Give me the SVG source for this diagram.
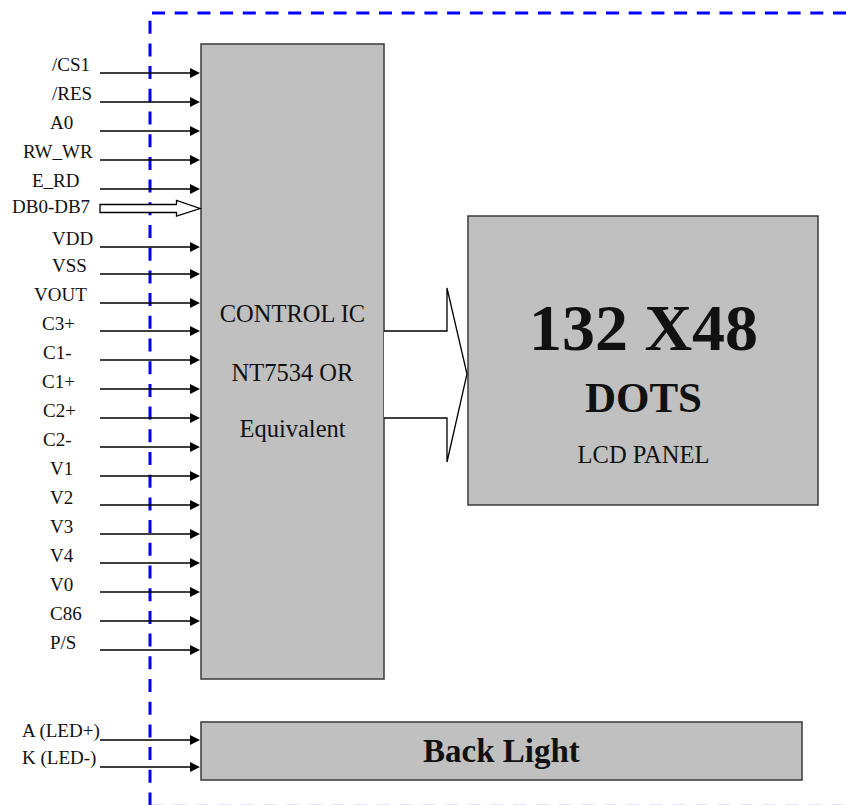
<svg xmlns="http://www.w3.org/2000/svg" width="846" height="805" viewBox="0 0 846 805">
<style>
.lbl{font-family:"Liberation Serif","Times New Roman",serif;font-size:19px;fill:#111}
.box{fill:#c0c0c0;stroke:#3a3a3a;stroke-width:1.5}
.ln{stroke:#000;stroke-width:1.4;fill:none}
.ah{fill:#000}
.frame{fill:none;stroke:#0000ff;stroke-width:3;stroke-dasharray:13 9.7}
.ser{font-family:"Liberation Serif","Times New Roman",serif;fill:#111}
</style>
<rect width="846" height="805" fill="#fff"/>
<g id="frame">
<path class="frame" d="M150,805.5 V13 H846"/>
<path d="M150,805.5 H846" fill="none" stroke="#8f8fff" stroke-width="1.5" stroke-dasharray="13 9.7"/>
</g>
<g id="control-ic">
<rect class="box" x="201" y="44" width="183" height="635"/>
<text class="ser" x="292.5" y="322" font-size="24.5" text-anchor="middle">CONTROL IC</text>
<text class="ser" x="292.5" y="381" font-size="24.5" text-anchor="middle">NT7534 OR</text>
<text class="ser" x="292.5" y="437" font-size="24.5" text-anchor="middle">Equivalent</text>
</g>
<g id="lcd-panel">
<rect class="box" x="468" y="216" width="350" height="289"/>
<text class="ser" x="643.5" y="350" font-size="66" font-weight="bold" text-anchor="middle">132 X48</text>
<text class="ser" x="643.5" y="412" font-size="43" font-weight="bold" text-anchor="middle">DOTS</text>
<text class="ser" x="643.5" y="463" font-size="24.5" text-anchor="middle">LCD PANEL</text>
</g>
<g id="back-light">
<rect class="box" x="201" y="722" width="601" height="58"/>
<text class="ser" x="423" y="762" font-size="33" font-weight="bold">Back Light</text>
</g>
<g id="labels">
<text class="lbl" x="52" y="71">/CS1</text>
<text class="lbl" x="52" y="100">/RES</text>
<text class="lbl" x="50" y="129">A0</text>
<text class="lbl" x="23" y="158">RW_WR</text>
<text class="lbl" x="32" y="187">E_RD</text>
<text class="lbl" x="12" y="213">DB0-DB7</text>
<text class="lbl" x="52" y="245">VDD</text>
<text class="lbl" x="52" y="272">VSS</text>
<text class="lbl" x="34" y="301">VOUT</text>
<text class="lbl" x="42" y="330">C3+</text>
<text class="lbl" x="43" y="359">C1-</text>
<text class="lbl" x="42" y="388">C1+</text>
<text class="lbl" x="43" y="417">C2+</text>
<text class="lbl" x="43" y="446">C2-</text>
<text class="lbl" x="50" y="475">V1</text>
<text class="lbl" x="50" y="504">V2</text>
<text class="lbl" x="50" y="533">V3</text>
<text class="lbl" x="50" y="562">V4</text>
<text class="lbl" x="50" y="591">V0</text>
<text class="lbl" x="50" y="620">C86</text>
<text class="lbl" x="50" y="649">P/S</text>
<text class="lbl" x="22" y="737">A (LED+)</text>
<text class="lbl" x="22" y="764">K (LED-)</text>
</g>
<g id="connectors">
<path class="ln" d="M100,73H191 M100,102H191 M100,131H191 M100,160H191 M100,189H191 M100,247H191 M100,274H191 M100,303H191 M100,331H191 M100,360H191 M100,389H191 M100,418H191 M100,447H191 M100,476H191 M100,505H191 M100,534H191 M100,563H191 M100,592H191 M100,621H191 M100,650H191 M100,740H191 M100,767H191"/>
<path class="ah" d="M190,68L200,73L190,78Z M190,97L200,102L190,107Z M190,126L200,131L190,136Z M190,155L200,160L190,165Z M190,184L200,189L190,194Z M190,242L200,247L190,252Z M190,269L200,274L190,279Z M190,298L200,303L190,308Z M190,326L200,331L190,336Z M190,355L200,360L190,365Z M190,384L200,389L190,394Z M190,413L200,418L190,423Z M190,442L200,447L190,452Z M190,471L200,476L190,481Z M190,500L200,505L190,510Z M190,529L200,534L190,539Z M190,558L200,563L190,568Z M190,587L200,592L190,597Z M190,616L200,621L190,626Z M190,645L200,650L190,655Z M190,735L200,740L190,745Z M190,762L200,767L190,772Z"/>
<path d="M100,204.5H176.5V200.5L200,208.5L176.5,216V212.5H100Z" fill="#fff" stroke="#000" stroke-width="1.3"/>
<path d="M384,331H447V288L467,374L447,462V418H384" fill="#fff" stroke="#000" stroke-width="1.3"/>
</g>
</svg>
